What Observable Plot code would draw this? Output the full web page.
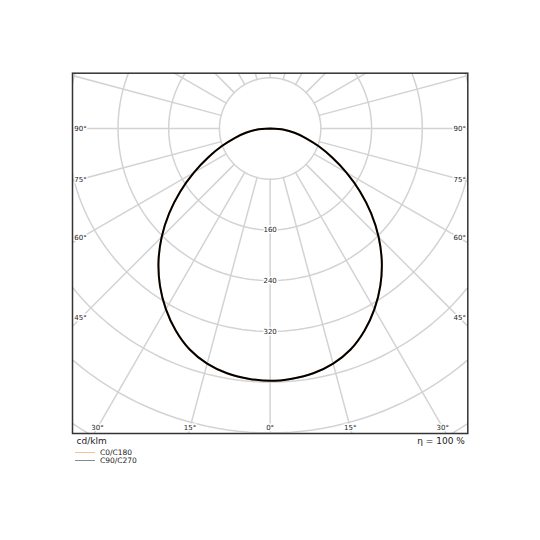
<!DOCTYPE html>
<html>
<head>
<meta charset="utf-8">
<script src="https://cdn.jsdelivr.net/npm/d3@7"></script>
<script src="https://cdn.jsdelivr.net/npm/@observablehq/plot@0.6"></script>
<style>
  html, body { margin: 0; padding: 0; background: #fff; }
  #wrap { position: relative; width: 540px; height: 540px; font-family: "DejaVu Sans", sans-serif; }
  #legend { position: absolute; left: 75px; top: 448.5px; font-size: 7.5px; color: #222; line-height: 8px; }
  #legend .row { display: flex; align-items: center; }
  #legend .sw { display: inline-block; width: 20px; height: 0; border-top: 1px solid; margin-right: 5px; }
</style>
</head>
<body>
<div id="wrap"></div>
<script>
// Luminous intensity (cd/klm) vs gamma angle (deg), symmetric
const gammaAngles = [0, 5, 10, 15, 20, 25, 30, 35, 40, 45, 50, 55, 60, 65, 70, 75, 80, 85, 90];
const c0c180 = [398, 396, 392, 384, 371, 352, 329, 303, 274, 242, 208, 173, 139, 108, 81, 58, 39, 22, 0];
const c90c270 = [398, 396, 392, 384, 371, 352, 329, 303, 274, 242, 208, 173, 139, 108, 81, 58, 39, 22, 0];
const seriesNames = ["C0/C180", "C90/C270"];
const seriesColors = ["#f6c38e", "#000000"];
const legendColors = ["#f6c38e", "#8a8a8a"];
const ringValues = [80, 160, 240, 320, 400, 480, 560, 640, 720];
const ringLabels = [160, 240, 320];
const spokeAngles = d3.range(0, 360, 15);
const sideLabels = [90, 75, 60, 45];
const bottomLabels = [30, 15, 0];
const unitLabel = "cd/klm";
const effLabel = "η = 100 %";

const xDom = [-311.8, 311.8];
const yDom = [-481, 87.2];
const rad = d => d * Math.PI / 180;

// curves: left half = mirrored
function curvePts(vals, name) {
  const pts = [];
  for (let i = gammaAngles.length - 1; i >= 0; i--) pts.push({a: -gammaAngles[i], v: vals[i], s: name});
  for (let i = 1; i < gammaAngles.length; i++) pts.push({a: gammaAngles[i], v: vals[i], s: name});
  return pts;
}
const curveData = [...curvePts(c0c180, seriesNames[0]), ...curvePts(c90c270, seriesNames[1])];

// grid rings
const ringPts = [];
for (const r of ringValues) for (let a = 0; a <= 360; a += 2) ringPts.push({r, a});
// spokes
const spokePts = [];
for (const a of spokeAngles) { spokePts.push({a, r: 80}); spokePts.push({a, r: 900}); }

// angle labels positioned along the ray, inset from the frame
const insetX = 8 / 0.634, insetY = 6 / 0.634;
const angLab = [];
for (const g of sideLabels) {
  const xe = xDom[1] - insetX;
  const yv = g === 90 ? 0 : -xe / Math.tan(rad(g));
  angLab.push({x: -xe, y: yv, t: g + "°"});
  angLab.push({x: xe, y: yv, t: g + "°"});
}
for (const g of bottomLabels) {
  const ye = -(-yDom[0] - insetY);
  const xv = -ye * Math.tan(rad(g));
  angLab.push({x: -xv, y: ye, t: g + "°"});
  if (g !== 0) angLab.push({x: xv, y: ye, t: g + "°"});
}

const plot = Plot.plot({
  width: 540, height: 540,
  marginLeft: 72, marginRight: 72.7, marginTop: 72.7, marginBottom: 107,
  x: {domain: xDom, axis: null},
  y: {domain: yDom, axis: null},
  style: {fontFamily: "DejaVu Sans, sans-serif", background: "white"},
  marks: [
    Plot.line(ringPts, {x: d => d.r * Math.sin(rad(d.a)), y: d => -d.r * Math.cos(rad(d.a)), z: "r", stroke: "#d3d3d3", strokeWidth: 1.5, clip: true}),
    Plot.line(spokePts, {x: d => d.r * Math.sin(rad(d.a)), y: d => -d.r * Math.cos(rad(d.a)), z: "a", stroke: "#d3d3d3", strokeWidth: 1.5, clip: true}),
    Plot.line(curveData, {x: d => d.v * Math.sin(rad(d.a)), y: d => -d.v * Math.cos(rad(d.a)), z: "s",
      stroke: d => d.s, strokeWidth: 2, curve: "catmull-rom", clip: true}),
    Plot.text(ringLabels, {x: 0, y: d => -d, text: d => String(d), fontSize: 7, fill: "#222", stroke: "white", strokeWidth: 3}),
    Plot.text(angLab, {x: "x", y: "y", text: "t", fontSize: 7, fill: "#222", stroke: "white", strokeWidth: 3}),
    Plot.frame({stroke: "#333", strokeWidth: 1.5}),
    Plot.text([unitLabel], {frameAnchor: "bottom-left", dx: 4, dy: 4.5, lineAnchor: "top", text: d => d, fontSize: 9, fill: "#222"}),
    Plot.text([effLabel], {frameAnchor: "bottom-right", dx: -3, dy: 4.5, lineAnchor: "top", text: d => d, fontSize: 9, fill: "#222"})
  ],
  color: {domain: seriesNames, range: seriesColors}
});
document.getElementById("wrap").appendChild(plot);

const leg = document.createElement("div");
leg.id = "legend";
seriesNames.forEach((n, i) => {
  const row = document.createElement("div");
  row.className = "row";
  const sw = document.createElement("span");
  sw.className = "sw";
  sw.style.borderColor = legendColors[i];
  row.appendChild(sw);
  row.appendChild(document.createTextNode(n));
  leg.appendChild(row);
});
document.getElementById("wrap").appendChild(leg);
</script>
</body>
</html>
